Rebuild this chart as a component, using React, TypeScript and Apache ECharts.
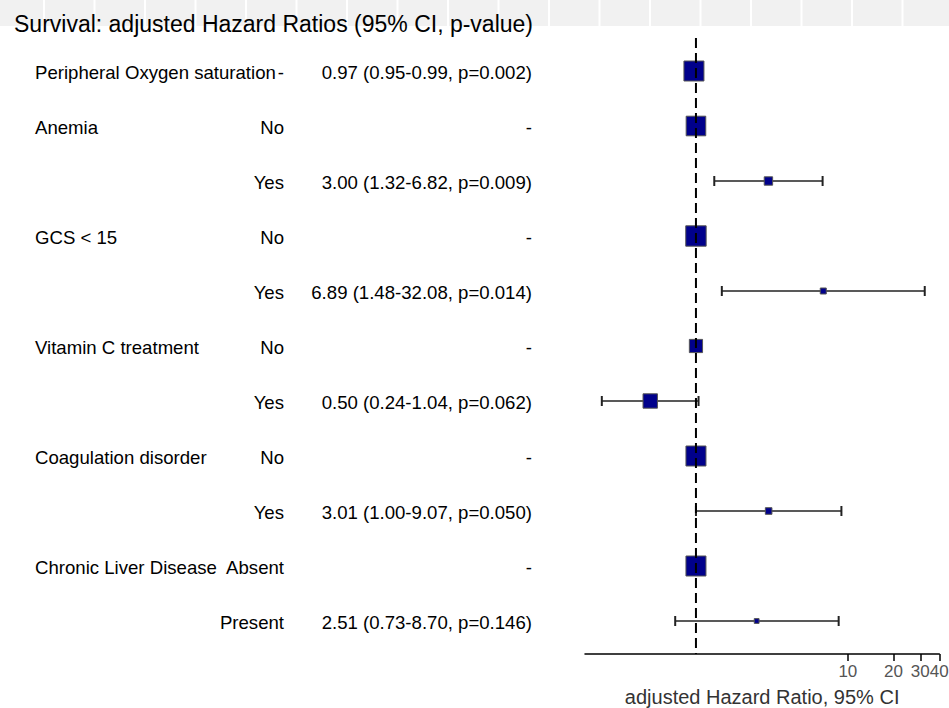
import React, { useEffect, useRef } from "react";
import * as echarts from "echarts";

// ---------- data ----------
const variables = [
  "Peripheral Oxygen saturation",
  "Anemia",
  "",
  "GCS < 15",
  "",
  "Vitamin C treatment",
  "",
  "Coagulation disorder",
  "",
  "Chronic Liver Disease",
  "",
];
const levels = ["-", "No", "Yes", "No", "Yes", "No", "Yes", "No", "Yes", "Absent", "Present"];
const hr = [0.97, 1, 3.0, 1, 6.89, 1, 0.5, 1, 3.01, 1, 2.51];
const ciLow: (number | null)[] = [0.95, null, 1.32, null, 1.48, null, 0.24, null, 1.0, null, 0.73];
const ciHigh: (number | null)[] = [0.99, null, 6.82, null, 32.08, null, 1.04, null, 9.07, null, 8.7];
const pValues: (number | null)[] = [0.002, null, 0.009, null, 0.014, null, 0.062, null, 0.05, null, 0.146];
const weights = [1.0, 0.98, 0.42, 1.02, 0.3, 0.66, 0.72, 1.0, 0.33, 1.0, 0.24];
const tickValues = [10, 20, 30, 40];
const refHR = 1;
const axisMinHR = 0.186;
const axisMaxHR = 40;

const FONT = "'Liberation Sans', Arial, Helvetica, sans-serif";

export default function App() {
  const ref = useRef<HTMLDivElement>(null);
  useEffect(() => {
    if (!ref.current) return;
    const chart = echarts.init(ref.current, null, { renderer: "svg" });
    const lg = (v: number) => Math.log10(v);
    const yMin = -0.6;
    const yMax = variables.length - 1 + 0.6;
    const estText = hr.map((h, i) =>
      ciLow[i] == null
        ? "-"
        : `${h.toFixed(2)} (${(ciLow[i] as number).toFixed(2)}-${(ciHigh[i] as number).toFixed(2)}, p=${(pValues[i] as number).toFixed(3)})`
    );
    const bandLines: any[] = [];
    for (let k = 0; k < 19; k++) {
      bandLines.push({
        type: "rect",
        shape: { x: 43 + 50.5 * k, y: 0, width: 2, height: 26 },
        style: { fill: "#ffffff" },
        z: 1,
      });
    }
    const option: any = {
      animation: false,
      backgroundColor: "#ffffff",
      title: {
        text: "Survival: adjusted Hazard Ratios (95% CI, p-value)",
        left: 9,
        top: 7,
        z: 10,
        textStyle: { fontSize: 23, fontWeight: "normal", color: "#000", fontFamily: FONT },
      },
      graphic: [
        { type: "rect", shape: { x: 0, y: 0, width: 949, height: 26 }, style: { fill: "#f1f1f1" }, z: 0 },
        ...bandLines,
      ],
      grid: { left: 585, right: 9.7, top: 38, bottom: 54, outerBoundsMode: "none", containLabel: false },
      xAxis: {
        type: "value",
        min: lg(axisMinHR),
        max: lg(axisMaxHR),
        splitLine: { show: false },
        axisLine: { show: true, onZero: false, lineStyle: { color: "#000", width: 1.5 } },
        axisTick: {
          show: true,
          customValues: tickValues.map(lg),
          length: 7,
          lineStyle: { color: "#000", width: 1.5 },
        },
        axisLabel: {
          customValues: tickValues.map(lg),
          formatter: (v: number) => String(Math.round(Math.pow(10, v))),
          fontSize: 17,
          color: "#555",
          margin: 9,
          hideOverlap: false,
          showMaxLabel: true,
          showMinLabel: true,
          fontFamily: FONT,
        },
        name: "adjusted Hazard Ratio, 95% CI",
        nameLocation: "middle",
        nameGap: 33,
        nameTextStyle: { fontSize: 20, color: "#333", fontFamily: FONT },
      },
      yAxis: { type: "value", inverse: true, min: yMin, max: yMax, show: false },
      series: [
        {
          type: "custom",
          clip: false,
          z: 3,
          data: hr.map((h, i) => [lg(h), i]),
          renderItem: (params: any, api: any) => {
            const i = params.dataIndex;
            const c = api.coord([lg(hr[i]), i]);
            const children: any[] = [];
            const lo = ciLow[i];
            const hi = ciHigh[i];
            if (lo != null && hi != null) {
              const pl = api.coord([lg(lo), i]);
              const ph = api.coord([lg(hi), i]);
              const st = { stroke: "#222", lineWidth: 1.5 };
              children.push({ type: "line", shape: { x1: pl[0], y1: c[1], x2: ph[0], y2: c[1] }, style: st });
              children.push({ type: "line", shape: { x1: pl[0], y1: c[1] - 5, x2: pl[0], y2: c[1] + 5 }, style: { stroke: "#222", lineWidth: 2 } });
              children.push({ type: "line", shape: { x1: ph[0], y1: c[1] - 5, x2: ph[0], y2: c[1] + 5 }, style: { stroke: "#222", lineWidth: 2 } });
            }
            const s = weights[i] * 20;
            children.push({
              type: "rect",
              shape: { x: c[0] - s / 2, y: c[1] - s / 2, width: s, height: s },
              style: { fill: "#00008b", stroke: "#555", lineWidth: 1 },
            });
            const ts = { fontSize: 18.6, fontFamily: FONT, fill: "#000", verticalAlign: "middle" };
            if (variables[i]) {
              children.push({ type: "text", style: { ...ts, text: variables[i], x: 35, y: c[1] + 1, align: "left" } });
            }
            children.push({ type: "text", style: { ...ts, text: levels[i], x: 284, y: c[1] + 1, align: "right" } });
            children.push({ type: "text", style: { ...ts, text: estText[i], x: 532, y: c[1] + 1, align: "right" } });
            return { type: "group", children };
          },
        },
        {
          type: "line",
          z: 5,
          symbol: "none",
          silent: true,
          data: [
            [lg(refHR), yMin],
            [lg(refHR), yMax],
          ],
          lineStyle: { color: "#000", width: 2, type: [10, 5] },
        },
      ],
    };
    chart.setOption(option);
    return () => chart.dispose();
  }, []);
  return (
    <div
      ref={ref}
      style={{ position: "fixed", left: 0, top: 0, width: 949, height: 708, background: "#fff" }}
    />
  );
}
